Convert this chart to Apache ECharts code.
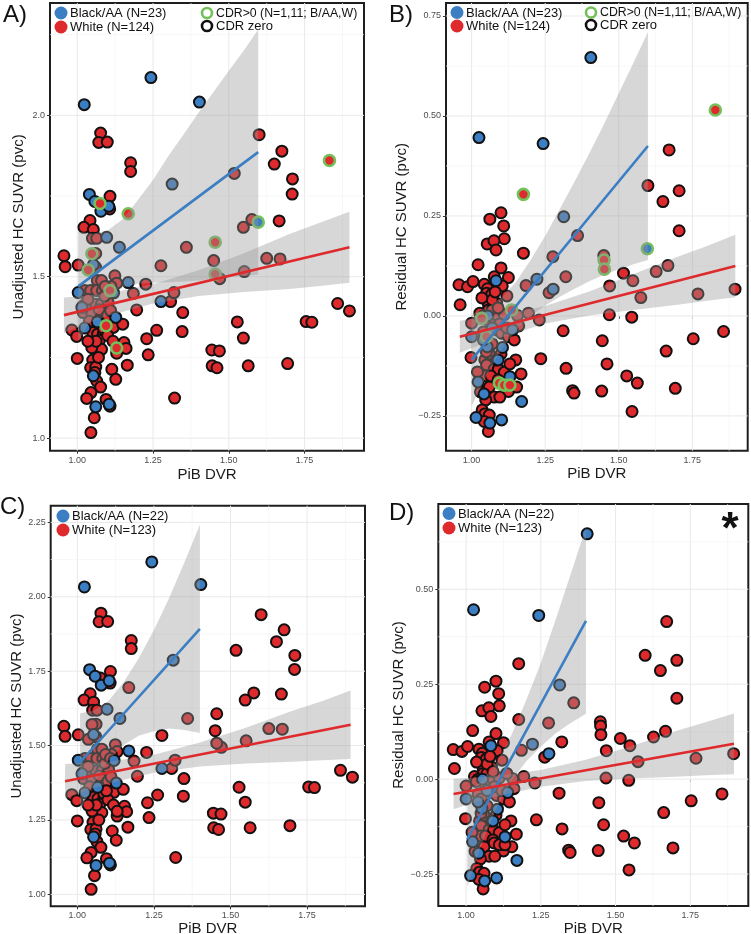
<!DOCTYPE html>
<html><head><meta charset="utf-8">
<script src="https://cdn.jsdelivr.net/npm/echarts@6/dist/echarts.min.js"></script>
<style>html,body{margin:0;padding:0;background:#fff}#c{width:751px;height:934px}</style>
</head><body><div id="c"></div>
<script>
// ---------------- DATA ----------------
const xTicks = [1.00, 1.25, 1.50, 1.75];
const xMinor = [1.125, 1.375, 1.625, 1.875];
const yTicksA = [1.0, 1.5, 2.0];
const yMinorA = [1.25, 1.75, 2.25];
const yTicksB = [-0.25, 0.00, 0.25, 0.50, 0.75];
const yMinorB = [-0.125, 0.125, 0.375, 0.625];
const yTicksC = [1.00, 1.25, 1.50, 1.75, 2.00, 2.25];
const yMinorC = [1.125, 1.375, 1.625, 1.875, 2.125];
const yTicksD = [-0.25, 0.00, 0.25, 0.50];
const yMinorD = [-0.125, 0.125, 0.375, 0.625];

// Unadjusted HC SUVR (pvc) vs PiB DVR
const unadjBlack = [[1.023,2.033],[1.243,2.117],[1.403,2.041],[1.313,1.787],[1.040,1.755],[1.058,1.733],[1.078,1.703],[1.104,1.718],[1.097,1.622],[1.139,1.591],[1.053,1.537],[1.168,1.482],[1.003,1.451],[1.015,1.405],[1.276,1.423],[1.127,1.374],[1.025,1.341],[1.053,1.193],[1.105,1.105],[1.061,1.097],[1.066,1.360],[1.120,1.450]];
const unadjBlackCdr = [[1.597,1.669]];
const unadjWhite = [[1.077,1.945],[1.071,1.916],[1.099,1.917],[1.176,1.853],[1.176,1.826],[1.600,1.940],[1.675,1.889],[1.650,1.849],[1.710,1.803],[1.709,1.756],[1.518,1.820],[1.576,1.677],[1.548,1.653],[1.666,1.673],[1.108,1.749],[1.107,1.710],[1.042,1.674],[1.022,1.653],[1.053,1.646],[1.050,1.619],[1.064,1.619],[1.061,1.572],[0.956,1.565],[0.960,1.531],[1.003,1.536],[1.276,1.534],[1.360,1.591],[1.450,1.550],[1.470,1.494],[1.551,1.516],[1.625,1.557],[1.669,1.555],[1.066,1.488],[1.080,1.488],[1.124,1.503],[1.130,1.480],[1.111,1.470],[1.185,1.448],[1.226,1.477],[1.025,1.457],[1.044,1.457],[1.064,1.457],[1.083,1.457],[1.020,1.410],[1.042,1.400],[1.061,1.415],[1.080,1.415],[1.102,1.420],[1.020,1.389],[1.048,1.384],[1.084,1.394],[1.196,1.397],[1.308,1.423],[1.319,1.451],[1.348,1.389],[0.982,1.335],[0.998,1.315],[1.053,1.353],[1.069,1.363],[1.119,1.343],[1.150,1.353],[1.051,1.327],[1.067,1.322],[1.086,1.322],[1.073,1.303],[1.080,1.275],[1.048,1.280],[1.154,1.296],[1.161,1.278],[1.130,1.263],[1.229,1.308],[1.262,1.334],[1.234,1.258],[1.000,1.247],[1.051,1.242],[1.044,1.218],[1.061,1.220],[1.058,1.203],[1.064,1.177],[1.077,1.158],[1.114,1.213],[1.127,1.182],[1.165,1.226],[1.045,1.141],[1.031,1.123],[1.095,1.120],[1.108,1.099],[1.056,1.063],[1.045,1.017],[1.346,1.330],[1.321,1.124],[1.444,1.273],[1.469,1.270],[1.445,1.224],[1.461,1.218],[1.528,1.360],[1.548,1.310],[1.564,1.224],[1.694,1.231],[1.755,1.361],[1.774,1.359],[1.859,1.417],[1.898,1.394],[1.090,1.440],[1.035,1.430],[1.072,1.398],[1.100,1.380],[1.040,1.362],[1.086,1.340],[1.062,1.300],[1.100,1.318],[1.118,1.300],[1.070,1.250],[1.092,1.470],[1.035,1.300],[1.110,1.395],[1.060,1.530]];
const unadjWhiteCdr = [[1.075,1.727],[1.168,1.695],[1.048,1.571],[1.036,1.521],[1.455,1.607],[1.455,1.508],[1.108,1.457],[1.095,1.348],[1.130,1.279]];
const unadjWhiteCdrDropped = [[1.832,1.860]];

// Residual HC SUVR (pvc) vs PiB DVR
const residBlack = [[1.025,0.446],[1.243,0.431],[1.405,0.646],[1.313,0.248],[1.083,0.088],[1.222,0.092],[1.277,0.067],[1.000,-0.052],[1.053,-0.077],[1.105,-0.079],[1.139,-0.035],[1.130,-0.152],[1.022,-0.165],[1.042,-0.195],[1.170,-0.214],[1.015,-0.254],[1.062,-0.268],[1.102,-0.260],[1.055,0.000],[1.070,-0.030],[1.090,-0.110],[1.040,-0.060]];
const residBlackCdr = [[1.597,0.168]];
const residWhite = [[1.100,0.258],[1.062,0.242],[1.109,0.225],[1.111,0.193],[1.053,0.180],[1.076,0.188],[1.083,0.165],[1.176,0.157],[1.022,0.128],[1.077,0.098],[1.125,0.096],[0.957,0.078],[0.986,0.073],[1.005,0.086],[1.043,0.079],[1.054,0.068],[1.051,0.057],[1.068,0.054],[1.104,0.075],[1.185,0.076],[1.276,0.148],[1.263,0.058],[0.961,0.028],[1.057,0.029],[1.085,0.032],[1.057,0.015],[1.070,0.015],[1.028,0.007],[1.000,-0.018],[1.085,-0.006],[1.111,0.003],[1.156,0.001],[1.193,0.007],[1.230,-0.010],[1.085,-0.035],[1.102,-0.043],[1.125,-0.052],[1.053,-0.060],[0.998,-0.104],[1.045,-0.110],[1.051,-0.123],[1.049,-0.150],[1.077,-0.133],[1.091,-0.133],[1.111,-0.141],[1.150,-0.110],[1.168,-0.145],[1.235,-0.107],[1.060,-0.178],[1.125,-0.189],[1.153,-0.178],[1.077,-0.203],[1.096,-0.203],[1.048,-0.210],[1.036,-0.235],[1.045,-0.245],[1.060,-0.248],[1.043,-0.264],[1.057,-0.289],[1.320,0.098],[1.311,-0.037],[1.321,-0.131],[1.343,-0.187],[1.348,-0.193],[1.360,0.201],[1.449,0.151],[1.469,0.075],[1.516,0.107],[1.548,0.088],[1.575,0.046],[1.627,0.111],[1.667,0.126],[1.769,0.055],[1.895,0.067],[1.468,0.003],[1.544,-0.003],[1.444,-0.062],[1.460,-0.120],[1.442,-0.188],[1.527,-0.150],[1.563,-0.168],[1.545,-0.239],[1.661,-0.088],[1.692,-0.181],[1.753,-0.057],[1.856,-0.039],[1.705,0.213],[1.671,0.415],[1.599,0.326],[1.650,0.286],[1.705,0.313],[1.070,0.040],[1.090,0.020],[1.040,0.000],[1.065,-0.020],[1.095,-0.020],[1.120,-0.030],[1.040,-0.040],[1.070,-0.070],[1.100,-0.095],[1.060,-0.095],[1.085,-0.110],[1.130,-0.120],[1.030,-0.190],[1.065,-0.150],[1.145,-0.060],[1.160,-0.025],[1.100,0.120],[1.020,-0.140],[1.080,0.060],[1.120,0.050],[1.050,-0.090],[1.090,-0.160],[1.035,0.045]];
const residWhiteCdr = [[1.176,0.304],[1.034,-0.006],[1.051,-0.052],[1.136,0.015],[1.094,-0.168],[1.111,-0.173],[1.130,-0.173],[1.450,0.140],[1.451,0.117]];
const residWhiteCdrDropped = [[1.828,0.515]];

// Fitted lines (endpoints) and confidence bands [x, lower, upper]
const fitBlackA = [[1.003,1.470],[1.597,1.886]];
const fitWhiteA = [[0.956,1.381],[1.898,1.591]];
const bandBlackA = [[1.003,1.300,1.640],[1.05,1.373,1.633],[1.10,1.433,1.643],[1.15,1.468,1.678],[1.20,1.478,1.738],[1.25,1.481,1.800],[1.30,1.483,1.873],[1.35,1.485,1.940],[1.40,1.488,2.008],[1.45,1.493,2.073],[1.50,1.498,2.138],[1.55,1.502,2.202],[1.597,1.506,2.266]];
const bandWhiteA = [[0.956,1.326,1.436],[1.03,1.354,1.441],[1.10,1.378,1.448],[1.25,1.417,1.477],[1.40,1.440,1.520],[1.55,1.453,1.573],[1.70,1.462,1.632],[1.80,1.471,1.667],[1.898,1.481,1.701]];
const fitBlackB = [[1.000,-0.110],[1.599,0.425]];
const fitWhiteB = [[0.960,-0.052],[1.896,0.125]];
const bandBlackB = [[1.000,-0.225,0.005],[1.05,-0.150,0.020],[1.10,-0.086,0.044],[1.15,-0.036,0.084],[1.20,-0.001,0.139],[1.25,0.026,0.200],[1.30,0.048,0.268],[1.35,0.068,0.336],[1.40,0.087,0.407],[1.45,0.103,0.480],[1.50,0.117,0.557],[1.55,0.129,0.633],[1.599,0.140,0.710]];
const bandWhiteB = [[0.960,-0.092,-0.012],[1.03,-0.072,-0.004],[1.10,-0.054,0.002],[1.25,-0.019,0.025],[1.40,0.001,0.061],[1.55,0.015,0.105],[1.70,0.028,0.148],[1.80,0.038,0.175],[1.896,0.047,0.203]];
const fitBlackC = [[1.009,1.444],[1.400,1.892]];
const fitWhiteC = [[0.960,1.380],[1.892,1.570]];
const bandBlackC = [[1.009,1.279,1.609],[1.05,1.366,1.616],[1.10,1.448,1.648],[1.15,1.501,1.711],[1.20,1.533,1.793],[1.25,1.548,1.888],[1.30,1.557,1.997],[1.35,1.552,2.117],[1.400,1.542,2.242]];
const bandWhiteC = [[0.960,1.322,1.438],[1.03,1.350,1.442],[1.10,1.373,1.445],[1.25,1.409,1.469],[1.40,1.430,1.510],[1.55,1.440,1.560],[1.70,1.446,1.616],[1.80,1.451,1.650],[1.892,1.455,1.685]];
const fitBlackD = [[1.004,-0.158],[1.401,0.417]];
const fitWhiteD = [[0.958,-0.039],[1.896,0.093]];
const bandBlackD = [[1.004,-0.283,-0.033],[1.05,-0.176,-0.006],[1.10,-0.079,0.041],[1.15,-0.007,0.113],[1.20,0.046,0.206],[1.25,0.086,0.306],[1.30,0.121,0.421],[1.35,0.148,0.540],[1.401,0.172,0.662]];
const bandWhiteD = [[0.958,-0.079,0.001],[1.03,-0.061,0.004],[1.10,-0.046,0.008],[1.25,-0.020,0.024],[1.40,-0.005,0.051],[1.55,0.002,0.086],[1.70,0.006,0.126],[1.80,0.010,0.150],[1.896,0.013,0.173]];

// ---------------- STYLE / LAYOUT ----------------
const FONT = '"Liberation Sans", Arial, Helvetica, sans-serif';
const BLUE = '#3B7EC3', RED = '#DF2A2D', GREEN = '#74C05A';
const BAND = 'rgba(150,150,150,0.38)';

const panels = [
  { grid:{left:50, top:3, width:314, height:447.7}, x:[0.91,1.946], y:[0.961,2.348], yTicks:yTicksA, yMinor:yMinorA, dec:1,
    yName:'Unadjusted HC SUVR (pvc)', yGap:24, xGap:17,
    white:unadjWhite, whiteCdr:unadjWhiteCdr.concat(unadjWhiteCdrDropped), black:unadjBlack, blackCdr:unadjBlackCdr,
    fitB:fitBlackA, fitW:fitWhiteA, bandB:bandBlackA, bandW:bandWhiteA },
  { grid:{left:446, top:3, width:301.7, height:447.7}, x:[0.913,1.938], y:[-0.337,0.7825], yTicks:yTicksB, yMinor:yMinorB, dec:2,
    yName:'Residual HC SUVR (pvc)', yGap:37, xGap:16,
    white:residWhite, whiteCdr:residWhiteCdr.concat(residWhiteCdrDropped), black:residBlack, blackCdr:residBlackCdr,
    fitB:fitBlackB, fitW:fitWhiteB, bandB:bandBlackB, bandW:bandWhiteB },
  { grid:{left:50.7, top:505.7, width:314.3, height:400.6}, x:[0.913,1.939], y:[0.96,2.306], yTicks:yTicksC, yMinor:yMinorC, dec:2,
    yName:'Unadjusted HC SUVR (pvc)', yGap:25, xGap:14,
    white:unadjWhite.concat(unadjWhiteCdr), whiteCdr:[], black:unadjBlack, blackCdr:[],
    fitB:fitBlackC, fitW:fitWhiteC, bandB:bandBlackC, bandW:bandWhiteC },
  { grid:{left:438.3, top:504, width:310, height:402}, x:[0.907,1.944], y:[-0.334,0.7245], yTicks:yTicksD, yMinor:yMinorD, dec:2,
    yName:'Residual HC SUVR (pvc)', yGap:31, xGap:14,
    white:residWhite.concat(residWhiteCdr), whiteCdr:[], black:residBlack, blackCdr:[],
    fitB:fitBlackD, fitW:fitWhiteD, bandB:bandBlackD, bandW:bandWhiteD }
];

function fmt(v, d){ const s = Math.abs(v).toFixed(d); return (v < -1e-9 ? '\u2212' : '') + s; }

const grids = [], xAxes = [], yAxes = [], series = [];
panels.forEach((p, i) => {
  grids.push(Object.assign({show:true, borderColor:'#1e1e1e', borderWidth:2, backgroundColor:'#fff', outerBoundsMode:'none', containLabel:false}, p.grid));
  xAxes.push({ type:'value', gridIndex:i, min:p.x[0], max:p.x[1], scale:true,
    axisLine:{show:false}, splitLine:{show:false},
    axisTick:{show:true, customValues:xTicks, length:3, lineStyle:{color:'#333', width:1}},
    axisLabel:{customValues:xTicks, formatter:v=>fmt(v,2), fontSize:9, color:'#4d4d4d', fontFamily:FONT, margin:5},
    name:'PiB DVR', nameLocation:'middle', nameGap:p.xGap, nameTextStyle:{fontSize:15, color:'#1a1a1a', fontFamily:FONT, verticalAlign:'top'} });
  yAxes.push({ type:'value', gridIndex:i, min:p.y[0], max:p.y[1], scale:true,
    axisLine:{show:false}, splitLine:{show:false},
    axisTick:{show:true, customValues:p.yTicks, length:3, lineStyle:{color:'#333', width:1}},
    axisLabel:{customValues:p.yTicks, formatter:v=>fmt(v,p.dec), fontSize:9, color:'#4d4d4d', fontFamily:FONT, margin:5},
    name:p.yName, nameLocation:'middle', nameGap:p.yGap, nameTextStyle:{fontSize:15, color:'#1a1a1a', fontFamily:FONT} });

  // grid lines (major + minor)
  const rows = [];
  xTicks.forEach(v => rows.push([v, 0, 0]));
  xMinor.filter(v => v > p.x[0] && v < p.x[1]).forEach(v => rows.push([v, 0, 1]));
  p.yTicks.forEach(v => rows.push([v, 1, 0]));
  p.yMinor.filter(v => v > p.y[0] && v < p.y[1]).forEach(v => rows.push([v, 1, 1]));
  series.push({ type:'custom', xAxisIndex:i, yAxisIndex:i, z:1, silent:true, data:rows,
    renderItem:(params, api) => {
      const v = api.value(0), dir = api.value(1), minor = api.value(2);
      const a = dir === 0 ? api.coord([v, p.y[0]]) : api.coord([p.x[0], v]);
      const b = dir === 0 ? api.coord([v, p.y[1]]) : api.coord([p.x[1], v]);
      return { type:'line', shape:{x1:a[0], y1:a[1], x2:b[0], y2:b[1]},
        style:{stroke: minor ? '#f4f4f4' : '#e9e9e9', lineWidth: minor ? 0.7 : 1} };
    } });

  const pt = (data, fill, border, bw) => ({ type:'scatter', xAxisIndex:i, yAxisIndex:i, z:2, silent:true,
    data, symbol:'circle', symbolSize:11, itemStyle:{color:fill, borderColor:border, borderWidth:bw, opacity:1} });
  series.push(pt(p.white, RED, '#111', 2));
  series.push(pt(p.black, BLUE, '#111', 2));
  if (p.whiteCdr.length) series.push(pt(p.whiteCdr, RED, GREEN, 2.6));
  if (p.blackCdr.length) series.push(pt(p.blackCdr, BLUE, GREEN, 2.6));

  const band = (b) => ({ type:'custom', xAxisIndex:i, yAxisIndex:i, z:3, silent:true, data:b,
    encode:{x:0, y:[1,2]},
    renderItem:(params, api) => {
      if (params.dataIndex !== 0) return null;
      const up = b.map(r => api.coord([r[0], r[2]]));
      const lo = b.map(r => api.coord([r[0], r[1]])).reverse();
      return { type:'polygon', shape:{points: up.concat(lo)}, style:{fill:BAND} };
    } });
  series.push(band(p.bandB));
  series.push(band(p.bandW));

  const line = (d, c) => ({ type:'line', xAxisIndex:i, yAxisIndex:i, z:4, silent:true, data:d,
    symbol:'none', lineStyle:{color:c, width:2.6}, animation:false });
  series.push(line(p.fitB, BLUE));
  series.push(line(p.fitW, RED));
});

// ---------------- LEGENDS / LABELS ----------------
const txt = (t, x, y, size, extra) => ({ type:'text', z:100, style:Object.assign({text:t, x, y, fontSize:size, fontFamily:FONT, fill:'#111', verticalAlign:'middle'}, extra||{}) });
const dot = (cx, cy, c) => ({ type:'circle', z:100, shape:{cx, cy, r:6.5}, style:{fill:c} });
const ring = (cx, cy, c) => ({ type:'circle', z:100, shape:{cx, cy, r:5}, style:{fill:'#fff', stroke:c, lineWidth:2.6} });

const graphics = [
  txt('A)', 3, 15, 24), txt('B)', 389, 15, 24), txt('C)', 0, 507, 24), txt('D)', 389, 513, 24),
  // A legend
  dot(61, 13, BLUE), txt('Black/AA (N=23)', 70, 13.5, 13),
  dot(61, 27, RED), txt('White (N=124)', 70, 27.5, 13),
  ring(207, 13, GREEN), txt('CDR>0 (N=1,11; B/AA,W)', 216, 13.5, 12.3),
  ring(207, 26, '#111'), txt('CDR zero', 216, 26.5, 13),
  // B legend
  dot(457, 12.5, BLUE), txt('Black/AA (N=23)', 466, 13, 13),
  dot(457, 26, RED), txt('White (N=124)', 466, 26.5, 13),
  ring(591, 12.5, GREEN), txt('CDR>0 (N=1,11; B/AA,W)', 600, 13, 12.3),
  ring(591, 25, '#111'), txt('CDR zero', 600, 25.5, 13),
  // C legend
  dot(63, 516, BLUE), txt('Black/AA (N=22)', 72, 516.5, 13),
  dot(63, 530, RED), txt('White (N=123)', 72, 530.5, 13),
  // D legend
  dot(449, 513.5, BLUE), txt('Black/AA (N=22)', 458, 514, 13),
  dot(449, 528, RED), txt('White (N=123)', 458, 528.5, 13),
  txt('*', 730, 531, 44, {fontWeight:'bold', align:'center'})
];

const chart = echarts.init(document.getElementById('c'), null, {renderer:'canvas'});
chart.setOption({
  animation:false, backgroundColor:'#fff',
  grid:grids, xAxis:xAxes, yAxis:yAxes, series, graphic:graphics
});
</script></body></html>
